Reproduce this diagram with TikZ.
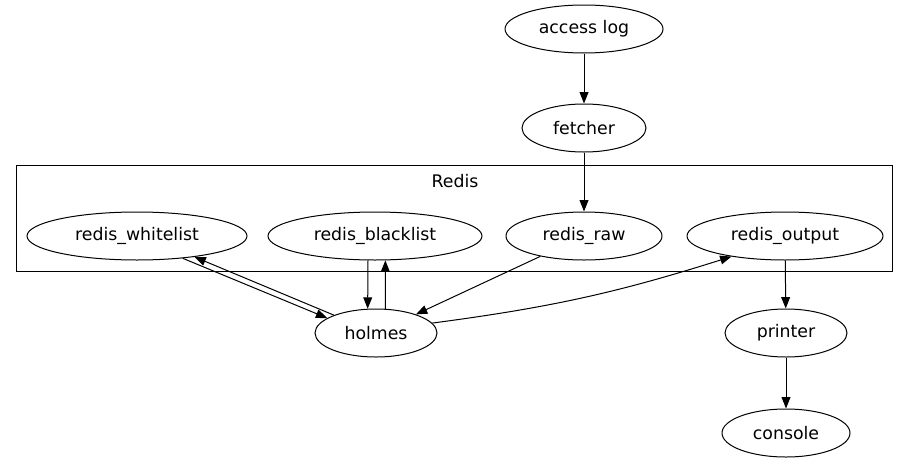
\documentclass[tikz,border=0pt]{standalone}
\usepackage{fontspec}
\setmainfont{DejaVu Sans}
\usepackage{tikz}
\usetikzlibrary{arrows.meta,shapes.geometric}

\begin{document}
\begin{tikzpicture}[x=0.75pt,y=-0.75pt,line width=0.75pt,
  every node/.style={font=\fontsize{13}{15}\selectfont},
  proc/.style={shape=ellipse,draw,inner sep=0pt,minimum height=36pt},
  >={Triangle[length=8.5pt,width=6.6pt]}]
\useasboundingbox (0,0) rectangle (909,464);
% cluster
\draw (16,165) rectangle (892,271);
\path (455,181) node (redislbl) {Redis};

\path (584,29) node (alog) [proc,minimum width=118.5pt] {access log};
\path (584,128) node (fetch) [proc,minimum width=93pt] {fetcher};
\path (137,236) node (wlist) [proc,minimum width=165pt] {redis\_whitelist};
\path (375,236) node (blist) [proc,minimum width=160.5pt] {redis\_blacklist};
\path (584,236) node (raw) [proc,minimum width=117pt] {redis\_raw};
\path (785,236) node (rout) [proc,minimum width=147pt] {redis\_output};
\path (376,333) node (holmes) [proc,minimum width=91.5pt] {holmes};
\path (786,333) node (printer) [proc,minimum width=91.5pt] {printer};
\path (786,433) node (console) [proc,minimum width=96pt] {console};

\draw [->] (alog) to (fetch);
\draw [->] (fetch) to (raw);
\draw [->] (wlist.-26) to (holmes.163);
\draw [->] (holmes.157) to (wlist.-20);
\draw [->] (blist.-106) to (holmes.109);
\draw [->] (holmes.69) to (blist.-67);
\draw [->] (raw) to (holmes);
\draw [->] (holmes.10) to [bend right=5] (rout.-159);
\draw [->] (rout) to (printer);
\draw [->] (printer) to (console);
\end{tikzpicture}
\end{document}
